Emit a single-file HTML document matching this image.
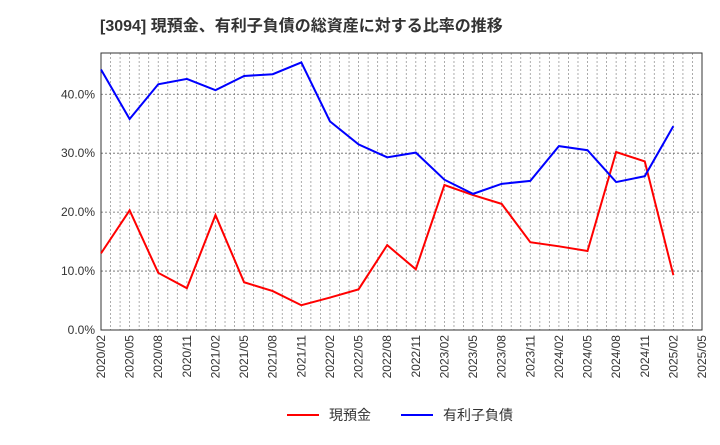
<!DOCTYPE html>
<html><head><meta charset="utf-8"><style>
body{margin:0;background:#fff;font-family:"Liberation Sans","Noto Sans CJK JP",sans-serif}
</style></head><body>
<svg id="c" width="720" height="440" xmlns="http://www.w3.org/2000/svg"></svg>
<script>
const categories=["2020/02","2020/05","2020/08","2020/11","2021/02","2021/05","2021/08","2021/11","2022/02","2022/05","2022/08","2022/11","2023/02","2023/05","2023/08","2023/11","2024/02","2024/05","2024/08","2024/11","2025/02","2025/05"];
const cashRatio=[13.0,20.3,9.7,7.1,19.5,8.1,6.6,4.2,5.5,6.9,14.4,10.3,24.6,22.9,21.4,14.9,14.2,13.4,30.2,28.6,9.3];
const debtRatio=[44.2,35.8,41.7,42.6,40.7,43.1,43.4,45.4,35.4,31.5,29.3,30.1,25.5,23.1,24.8,25.3,31.2,30.5,25.1,26.1,34.6];
const yTicks=[0,10,20,30,40];
const yTickLabels=["0.0%","10.0%","20.0%","30.0%","40.0%"];
const svg=document.getElementById('c');const NS="http://www.w3.org/2000/svg";
const L=101,R=702,T=53,B=330,yMax=47;
const x=i=>L+i*(R-L)/(categories.length-1);
const y=v=>B-v*(B-T)/yMax;
function mk(t,a){const e=document.createElementNS(NS,t);for(const k in a)e.setAttribute(k,a[k]);svg.appendChild(e);return e;}
let e=mk('text',{x:100,y:31,'font-size':16,'font-weight':'bold',fill:'#333'});e.textContent="[3094]  現預金、有利子負債の総資産に対する比率の推移";


for(let m=0;m<=(categories.length-1)*3;m++){const xx=L+m*(R-L)/((categories.length-1)*3);
e=mk('line',{x1:xx,x2:xx,y1:T,y2:B,stroke:'#999','stroke-dasharray':'2,2','stroke-width':0.8});

}
yTicks.forEach((v,i)=>{e=mk('line',{x1:L,x2:R,y1:y(v),y2:y(v),stroke:'#666','stroke-dasharray':'2,2','stroke-width':0.8});


e=mk('text',{x:L-6,y:y(v)+4,'font-size':12,'text-anchor':'end',fill:'#333'});e.textContent=yTickLabels[i];

});
e=mk('rect',{x:L,y:T,width:R-L,height:B-T,fill:'none',stroke:'#333','stroke-width':1});


categories.forEach((c,i)=>{e=mk('text',{transform:`translate(${x(i)+4},${B+5}) rotate(-90)`,'font-size':12,'text-anchor':'end',fill:'#333'});e.textContent=c;

});
function line(d,col,name){e=mk('polyline',{points:d.map((v,i)=>x(i)+','+y(v)).join(' '),fill:'none',stroke:col,'stroke-width':2});

}
line(cashRatio,'#f00','cash-ratio-line');line(debtRatio,'#00f','debt-ratio-line');
function leg(x0,col,t,name){e=mk('line',{x1:x0,x2:x0+32,y1:415,y2:415,stroke:col,'stroke-width':2});


e=mk('text',{x:x0+42,y:420,'font-size':14,fill:'#333'});e.textContent=t;

}
leg(287,'#f00','現預金','legend-cash');leg(401,'#00f','有利子負債','legend-debt');
</script>
</body></html>
